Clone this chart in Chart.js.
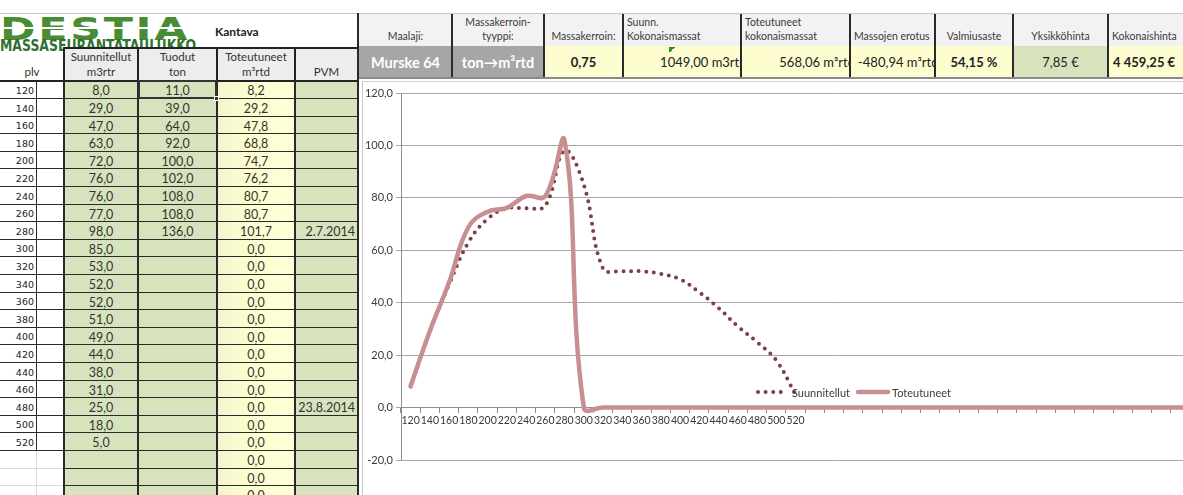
<!DOCTYPE html>
<html lang="fi">
<head>
<meta charset="utf-8">
<title>Massaseurantataulukko – Kantava</title>
<script src="https://cdn.jsdelivr.net/npm/chart.js@4.4.1/dist/chart.umd.min.js"></script>
<style>
  html, body { margin: 0; padding: 0; }
  body {
    width: 1183px; height: 495px; overflow: hidden; position: relative;
    background: #fff; color: #333;
    font-family: Lato, "Open Sans", "Liberation Sans", sans-serif;
  }
  .c {
    position: absolute; box-sizing: border-box; display: flex;
    align-items: center; justify-content: center;
    white-space: nowrap; overflow: hidden;
  }
  #logo { position: absolute; left: 0; top: 0; width: 200px; height: 52px; overflow: hidden; }
  #logo .big, #logo .small {
    position: absolute; left: 0; white-space: nowrap; transform-origin: 0 0;
    font-family: "DejaVu Sans", sans-serif; font-weight: bold;
  }
  #logo .big { top: 13px; font-size: 32px; line-height: 32px; letter-spacing: 2px; color: #4a8c34; }
  #logo .small { top: 38px; font-size: 15.5px; line-height: 16px; color: #2f7230; }
  #logo .stripe { position: absolute; left: 0; width: 196px; height: 2px; background: #fff; }
  #chartBox { position: absolute; left: 362px; top: 81px; width: 915px; height: 414px; }
</style>
</head>
<body>

<div id="logo">
  <div class="big" id="logoBig">DESTIA</div>
  <div class="stripe" style="top:27px"></div>
  <div class="small" id="logoSmall">MASSASEURANTATAULUKKO</div>
</div>

<div id="chartBox"><canvas id="chart" width="915" height="414"></canvas></div>

<script>
// ---------------- data ----------------
const plv = [120, 140, 160, 180, 200, 220, 240, 260, 280, 300, 320, 340, 360, 380, 400, 420, 440, 460, 480, 500, 520];
const suunnitellut = [8.0, 29.0, 47.0, 63.0, 72.0, 76.0, 76.0, 77.0, 98.0, 85.0, 53.0, 52.0, 52.0, 51.0, 49.0, 44.0, 38.0, 31.0, 25.0, 18.0, 5.0];
const tuodut = [11.0, 39.0, 64.0, 92.0, 100.0, 102.0, 108.0, 108.0, 136.0];
const toteutuneet = [
  8.2, 29.2, 47.8, 68.8, 74.7, 76.2, 80.7, 80.7, 101.7,
  0, 0, 0, 0, 0, 0, 0, 0, 0, 0, 0, 0,
  0, 0, 0, 0, 0, 0, 0, 0, 0, 0, 0, 0,
  0, 0, 0, 0, 0, 0, 0, 0, 0, 0, 0, 0
];
const pvm = { 280: '2.7.2014', 480: '23.8.2014' };
const yTicks = { min: -20, max: 120, step: 20 };
const seriesNames = ['Suunnitellut', 'Toteutuneet'];

// category labels: the numbered stations, then the unnumbered rows
const categories = plv.map(String).concat(new Array(toteutuneet.length - plv.length).fill(''));

// ---------------- sheet helpers ----------------
const fmt1 = v => v.toFixed(1).replace('.', ',');
function box(x, y, w, h, css, html) {
  const d = document.createElement('div');
  d.className = 'c';
  Object.assign(d.style, { left: x + 'px', top: y + 'px', width: w + 'px', height: h + 'px' }, css || {});
  if (html != null) d.innerHTML = html;
  document.body.appendChild(d);
  return d;
}
function line(x, y, w, h, color) { return box(x, y, w, h, { background: color || '#222' }); }

// ---------------- left table ----------------
const GREEN = '#d7e3bc', YELLOW = '#fdfdd0';
const col = { A: [0, 37], B: [37, 64], C: [64, 138], D: [138, 217], E: [217, 295], F: [295, 358] };
const rowTop = 81.4, rowH = 17.6, visibleRows = 24;
const rowY = i => Math.round(rowTop + i * rowH);

// column fills
box(col.C[0], 81, col.C[1] - col.C[0], 414, { background: GREEN });
box(col.D[0], 81, col.D[1] - col.D[0], 414, { background: GREEN });
box(col.E[0], 81, col.E[1] - col.E[0], 414, { background: `linear-gradient(90deg, #f3f6cc, ${YELLOW} 45%, #ffffd6)` });
box(col.F[0], 81, col.F[1] - col.F[0], 414, { background: GREEN });

// header row 1
line(0, 13, 1183, 1, '#c8c8c8');
box(200, 14, 158, 34, { justifyContent: 'flex-start', paddingLeft: '15px', fontWeight: 'bold', fontSize: '12px', color: '#222' }, 'Kantava');

// header row 2
const hdrTop = 48, hdrH = 33;
box(col.C[0], hdrTop, col.F[1] - col.C[0], hdrH, { background: '#ededed' });
const hdrCss = { flexDirection: 'column', justifyContent: 'flex-end', paddingBottom: '2px', fontSize: '11.5px', lineHeight: '15px', color: '#333' };
box(0, hdrTop, 64, hdrH, hdrCss, 'plv');
box(col.C[0], hdrTop, 74, hdrH, hdrCss, '<div>Suunnitellut</div><div>m3rtr</div>');
box(col.D[0], hdrTop, 79, hdrH, hdrCss, '<div>Tuodut</div><div>ton</div>');
box(col.E[0], hdrTop, 78, hdrH, hdrCss, '<div>Toteutuneet</div><div>m³rtd</div>');
box(col.F[0], hdrTop, 63, hdrH, hdrCss, 'PVM');
line(64, 47, 294, 2, '#222');
line(0, 80, 358, 2, '#222');
[64, 138, 217, 295].forEach(x => line(x - 1, 47, 2, 34, '#222'));

// data rows
for (let i = 0; i < visibleRows; i++) {
  const y = rowY(i), h = rowY(i + 1) - y;
  const cellCss = { fontSize: '12.5px', color: '#333', paddingTop: '1px' };
  if (i < plv.length) {
    box(0, y, 36, h, { justifyContent: 'flex-end', paddingRight: '2px', fontSize: '9.5px', color: '#222', fontFamily: '"DejaVu Sans", sans-serif' }, String(plv[i]));
    box(col.C[0], y, 74, h, cellCss, fmt1(suunnitellut[i]));
    if (pvm[plv[i]]) box(col.F[0], y, 63, h, Object.assign({}, cellCss, { justifyContent: 'flex-end', paddingRight: '3px' }), pvm[plv[i]]);
  }
  if (i < tuodut.length) box(col.D[0], y, 79, h, cellCss, fmt1(tuodut[i]));
  if (i < toteutuneet.length) box(col.E[0], y, 78, h, cellCss, fmt1(toteutuneet[i]));
  // row separators
  if (i < plv.length) line(0, y + h - 1, 358, 1, '#2a2a2a');
  else { line(0, y + h - 1, 64, 1, '#dcdcdc'); line(64, y + h - 1, 294, 1, '#2a2a2a'); }
}
// column separators
line(36, 81, 1, rowY(plv.length) - 81, '#2a2a2a');
line(36, rowY(plv.length), 1, 495, '#dcdcdc');
[64, 138, 217, 295].forEach(x => line(x - 1, 81, 2, 414, '#2a2a2a'));
line(357, 13, 2, 482, '#2a2a2a');

// selected cell
box(col.D[0], rowY(0) - 1, 79, rowY(1) - rowY(0) + 1, { border: '2px solid #333', background: 'transparent' });
box(col.D[1] - 3, rowY(1) - 3, 5, 5, { background: '#333', border: '1px solid #fff' });

// ---------------- top info bar ----------------
const barLabelTop = 14, barLabelH = 32, barValTop = 46, barValH = 32;
box(359, barLabelTop, 824, barLabelH, { background: '#f2f2f2' });
const infoCells = [
  { x0: 359, x1: 452, label: 'Maalaji:', value: 'Murske 64', bg: '#a6a6a6', css: { color: '#fff', fontWeight: 'bold', fontSize: '14.5px' } },
  { x0: 452, x1: 544, label: 'Massakerroin-<br>tyyppi:', value: 'ton→m³rtd', bg: '#a6a6a6', css: { color: '#fff', fontWeight: 'bold', fontSize: '14.5px' } },
  { x0: 544, x1: 623, label: 'Massakerroin:', value: '0,75', bg: YELLOW, css: { fontWeight: 'bold', fontSize: '13px', color: '#222' } },
  { x0: 623, x1: 741, label: 'Suunn.<br>Kokonaismassat', left: true, value: '<span style="margin-right:-3px">1049,00 m3rtr</span>', bg: YELLOW, css: { justifyContent: 'flex-end', fontSize: '13px', color: '#222' } },
  { x0: 741, x1: 850, label: 'Toteutuneet<br>kokonaismassat', left: true, value: '<span style="margin-right:-5px">568,06 m³rtd</span>', bg: YELLOW, css: { justifyContent: 'flex-end', fontSize: '13px', color: '#222' } },
  { x0: 850, x1: 935, label: 'Massojen erotus', left: true, value: '-480,94 m³rtd', bg: YELLOW, css: { justifyContent: 'flex-start', paddingLeft: '8px', fontSize: '13px', color: '#222' } },
  { x0: 935, x1: 1013, label: 'Valmiusaste', value: '54,15 %', bg: YELLOW, css: { fontWeight: 'bold', fontSize: '13px', color: '#222' } },
  { x0: 1013, x1: 1108, label: 'Yksikköhinta', value: '7,85 €', bg: GREEN, css: { fontSize: '13px', color: '#222' } },
  { x0: 1108, x1: 1200, label: 'Kokonaishinta', left: true, value: '4 459,25 €', bg: YELLOW, css: { justifyContent: 'flex-start', paddingLeft: '5px', fontWeight: 'bold', fontSize: '13px', color: '#222' } }
];
infoCells.forEach(c => {
  const w = c.x1 - c.x0;
  box(c.x0, barLabelTop, w, barLabelH, {
    flexDirection: 'column', justifyContent: 'flex-end',
    alignItems: c.left ? 'flex-start' : 'center', paddingLeft: c.left ? '4px' : '0',
    paddingBottom: '3px', fontSize: '10.5px', lineHeight: '14px', color: '#3a3a3a', textAlign: c.left ? 'left' : 'center'
  }, c.label);
  box(c.x0, barValTop, w, barValH, Object.assign({ background: c.bg }, c.css), c.value);
});
[452, 544, 623, 741, 850, 935, 1013, 1108].forEach(x => line(x - 1, barLabelTop, 2, barLabelH + barValH, '#2a2a2a'));
line(359, 77, 824, 2, '#8a8a8a');
// comment marker
box(669, 47, 6, 6, { background: 'linear-gradient(135deg, #3c8a2e 50%, transparent 50%)' });

// chart frame
line(362, 81, 821, 1, '#d0d0d0');
line(362, 81, 1, 414, '#c8c8c8');

// ---------------- logo sizing ----------------
function fitWidth(el, target) {
  const w = el.getBoundingClientRect().width;
  el.style.transform = `scaleX(${target / w})`;
}
fitWidth(document.getElementById('logoBig'), 190);
fitWidth(document.getElementById('logoSmall'), 196);

// ---------------- chart ----------------
const legendInline = {
  id: 'legendInline',
  afterDraw(chart, args, opts) {
    const ctx = chart.ctx;
    ctx.save();
    ctx.font = opts.font;
    ctx.fillStyle = opts.color;
    ctx.textBaseline = 'middle';
    let x = opts.x;
    const y = opts.y;
    chart.data.datasets.forEach(ds => {
      ctx.save();
      ctx.strokeStyle = ds.borderColor;
      ctx.lineWidth = ds.borderWidth;
      ctx.lineCap = ds.borderCapStyle || 'butt';
      ctx.setLineDash(ds.borderDash || []);
      ctx.beginPath();
      ctx.moveTo(x, y);
      ctx.lineTo(x + opts.sample, y);
      ctx.stroke();
      ctx.restore();
      x += opts.sample + 4;
      ctx.fillText(ds.label, x, y + 1);
      x += ctx.measureText(ds.label).width + opts.gap;
    });
    ctx.restore();
  }
};

function drawChart() {
  new Chart(document.getElementById('chart'), {
    type: 'line',
    data: {
      labels: categories,
      datasets: [
        {
          label: seriesNames[0], data: suunnitellut,
          borderColor: '#7e3f4a', borderWidth: 4, borderDash: [0, 7.6], borderCapStyle: 'round',
          tension: 0.4, pointRadius: 0, fill: false, order: 2
        },
        {
          label: seriesNames[1], data: toteutuneet,
          borderColor: '#c78f92', borderWidth: 4.5, borderCapStyle: 'round', borderJoinStyle: 'round',
          tension: 0.42, pointRadius: 0, fill: false, order: 1
        }
      ]
    },
    options: {
      responsive: false, animation: false, events: [],
      layout: { padding: { top: 12, bottom: 35, left: 0, right: 10 } },
      plugins: {
        legend: { display: false }, tooltip: { enabled: false },
        legendInline: { x: 396, y: 311, sample: 30, gap: 8, font: '11px Lato', color: '#3a3a3a' }
      },
      scales: {
        x: {
          position: { y: 0 }, offset: true,
          grid: { offset: true, drawOnChartArea: false, drawTicks: true, tickLength: 5, color: '#8c8c8c' },
          border: { color: '#8c8c8c', width: 1 },
          ticks: { autoSkip: false, maxRotation: 0, minRotation: 0, padding: 2, color: '#3a3a3a', font: { family: 'Lato', size: 10.5 } }
        },
        y: {
          min: yTicks.min, max: yTicks.max,
          grid: { color: '#a8a8a8', tickLength: 5, drawTicks: true },
          border: { color: '#8c8c8c', width: 1 },
          ticks: { stepSize: yTicks.step, padding: 3, color: '#3a3a3a', font: { family: 'Lato', size: 11 }, callback: v => fmt1(v) },
          afterFit(scale) { scale.width = 39; }
        }
      }
    },
    plugins: [legendInline]
  });
}

(document.fonts && document.fonts.load ? document.fonts.load('11px Lato') : Promise.resolve())
  .then(drawChart, drawChart);
</script>
</body>
</html>
